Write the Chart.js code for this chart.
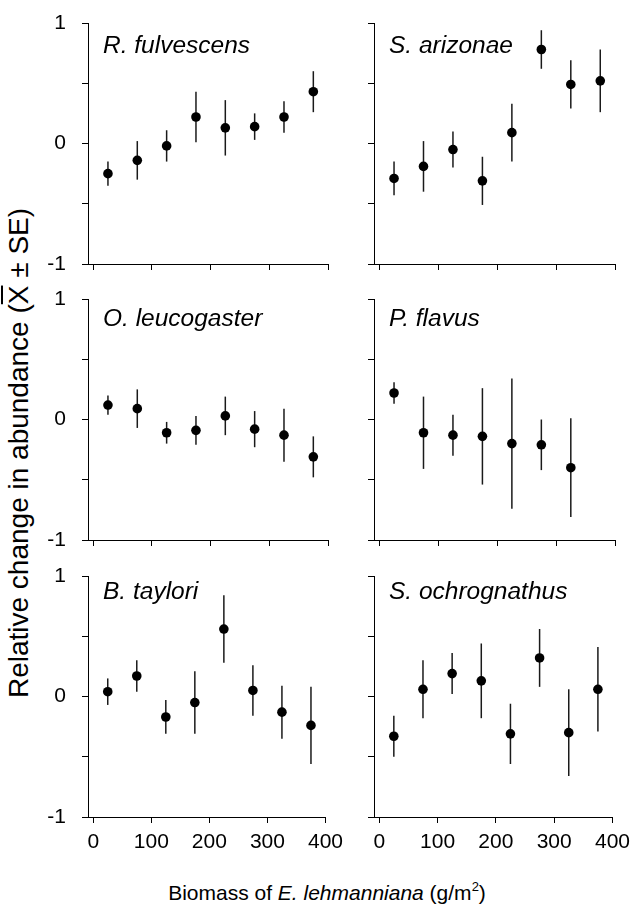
<!DOCTYPE html>
<html>
<head>
<meta charset="utf-8">
<script src="https://cdn.jsdelivr.net/npm/chart.js@4.4.1/dist/chart.umd.min.js"></script>
<style>
body{margin:0;background:#fff;width:637px;height:907px;position:relative;overflow:hidden;font-family:"Liberation Sans",Arial,sans-serif;color:#000}
canvas{position:absolute}
#ytitle{position:absolute;left:-281px;top:438px;width:600px;height:30px;line-height:30px;font-size:28px;text-align:center;transform:rotate(-90deg);white-space:nowrap}
#xtitle{position:absolute;left:27px;top:882px;width:600px;line-height:21px;font-size:21px;text-align:center;white-space:nowrap}
#xtitle sup{font-size:13px;vertical-align:9px;line-height:0}
</style>
</head>
<body>
<div id="ytitle">Relative change in abundance (<span style="text-decoration:overline">X</span> ± SE)</div>
<div id="xtitle">Biomass of <i>E. lehmanniana</i> (g/m<sup>2</sup>)</div>
<script>
'use strict'

// biomass classes (g/m2), same for every species
var biomass = [25, 75, 125, 175, 225, 275, 325, 375]
var xTicks = [0, 100, 200, 300, 400]
var yTicks = [-1, -0.5, 0, 0.5, 1]

var species = ['R. fulvescens', 'S. arizonae', 'O. leucogaster', 'P. flavus', 'B. taylori', 'S. ochrognathus']

var fulvescensMean = [-0.25, -0.14, -0.02, 0.22, 0.13, 0.14, 0.22, 0.43]
var fulvescensSE   = [0.10, 0.16, 0.13, 0.21, 0.23, 0.11, 0.13, 0.17]
var arizonaeMean = [-0.29, -0.19, -0.05, -0.31, 0.09, 0.78, 0.49, 0.52]
var arizonaeSE   = [0.14, 0.21, 0.15, 0.20, 0.24, 0.16, 0.20, 0.26]
var leucogasterMean = [0.12, 0.09, -0.11, -0.09, 0.03, -0.08, -0.13, -0.31]
var leucogasterSE   = [0.08, 0.16, 0.09, 0.12, 0.16, 0.15, 0.22, 0.17]
var flavusMean = [0.22, -0.11, -0.13, -0.14, -0.20, -0.21, -0.40]   // no point at 375
var flavusSE   = [0.09, 0.30, 0.17, 0.40, 0.54, 0.21, 0.41]
var tayloriMean = [0.04, 0.17, -0.17, -0.05, 0.56, 0.05, -0.13, -0.24]
var tayloriSE   = [0.11, 0.13, 0.14, 0.26, 0.28, 0.21, 0.22, 0.32]
var ochrognathusMean = [-0.33, 0.06, 0.19, 0.13, -0.31, 0.32, -0.30, 0.06]
var ochrognathusSE   = [0.17, 0.24, 0.17, 0.31, 0.25, 0.24, 0.36, 0.35]

var means = [fulvescensMean, arizonaeMean, leucogasterMean, flavusMean, tayloriMean, ochrognathusMean]
var errs = [fulvescensSE, arizonaeSE, leucogasterSE, flavusSE, tayloriSE, ochrognathusSE]

// panel layout (plot area in page pixels)
var colLeft = [88, 374], colRight = [328, 615]
var rowTop = [23, 299, 576], plotH = 241
var titleDrop = [30, 27, 23]
// padT has to cover the y tick label padding chart.js adds on top
var yW = 50, xH = 44, padT = 32, padR = 22

var FONT = '"Liberation Sans", Arial, sans-serif'

// vertical error bars, drawn under the dots
var errorBars = {
  id: 'errorBars',
  beforeDatasetsDraw: function (chart) {
    var ctx = chart.ctx, xs = chart.scales.x, ys = chart.scales.y
    var ds = chart.data.datasets[0]
    ctx.save()
    ctx.strokeStyle = '#1a1a1a'
    ctx.lineWidth = 1.5
    ds.data.forEach(function (p, i) {
      var px = xs.getPixelForValue(p.x)
      ctx.beginPath()
      ctx.moveTo(px, ys.getPixelForValue(p.y - ds.se[i]))
      ctx.lineTo(px, ys.getPixelForValue(p.y + ds.se[i]))
      ctx.stroke()
    })
    ctx.restore()
  }
}

// species name inside the plot, top left
var panelTitle = {
  id: 'panelTitle',
  afterDraw: function (chart) {
    var o = chart.options.plugins.panelTitle
    var ctx = chart.ctx
    ctx.save()
    ctx.font = 'italic 24.5px ' + FONT
    ctx.fillStyle = '#000'
    ctx.textBaseline = 'alphabetic'
    ctx.fillText(o.text, chart.chartArea.left + 15, chart.chartArea.top + o.drop)
    ctx.restore()
  }
}

function makePanel(k) {
  var col = k % 2, row = Math.floor(k / 2)
  var w = colRight[col] - colLeft[col] + yW + padR
  var h = plotH + padT + xH
  var cv = document.createElement('canvas')
  cv.width = w
  cv.height = h
  cv.style.left = (colLeft[col] - yW) + 'px'
  cv.style.top = (rowTop[row] - padT) + 'px'
  cv.style.width = w + 'px'
  cv.style.height = h + 'px'
  document.body.appendChild(cv)

  var pts = means[k].map(function (m, i) { return { x: biomass[i], y: m } })

  return new Chart(cv, {
    type: 'scatter',
    data: {
      datasets: [{
        data: pts,
        se: errs[k],
        pointRadius: 4.8,
        pointBackgroundColor: '#000',
        pointBorderWidth: 0,
        showLine: false
      }]
    },
    options: {
      responsive: false,
      animation: false,
      devicePixelRatio: 1,
      layout: { padding: { top: padT, right: padR, left: 0, bottom: 0 } },
      plugins: {
        legend: { display: false },
        tooltip: { enabled: false },
        panelTitle: { text: species[k], drop: titleDrop[row] }
      },
      scales: {
        x: {
          type: 'linear',
          min: -9,
          max: 400,
          afterBuildTicks: function (s) { s.ticks = xTicks.map(function (v) { return { value: v } }) },
          afterFit: function (s) { s.height = xH },
          ticks: {
            display: row === 2,
            autoSkip: false,
            maxRotation: 0,
            padding: 7,
            color: '#000',
            font: { family: FONT, size: 21 }
          },
          grid: { drawOnChartArea: false, drawTicks: true, tickLength: 6, color: '#000', lineWidth: 1 },
          border: { display: true, color: '#000', width: 1 }
        },
        y: {
          min: -1,
          max: 1,
          afterBuildTicks: function (s) { s.ticks = yTicks.map(function (v) { return { value: v } }) },
          afterFit: function (s) { s.width = yW },
          ticks: {
            display: col === 0,
            padding: 16,
            color: '#000',
            font: { family: FONT, size: 21 },
            callback: function (v) { return v % 1 === 0 ? String(v) : '' }
          },
          grid: { drawOnChartArea: false, drawTicks: true, tickLength: 6, color: '#000', lineWidth: 1 },
          border: { display: true, color: '#000', width: 1 }
        }
      }
    },
    plugins: [errorBars, panelTitle]
  })
}

for (var k = 0; k < species.length; k++) makePanel(k)
</script>
</body>
</html>
